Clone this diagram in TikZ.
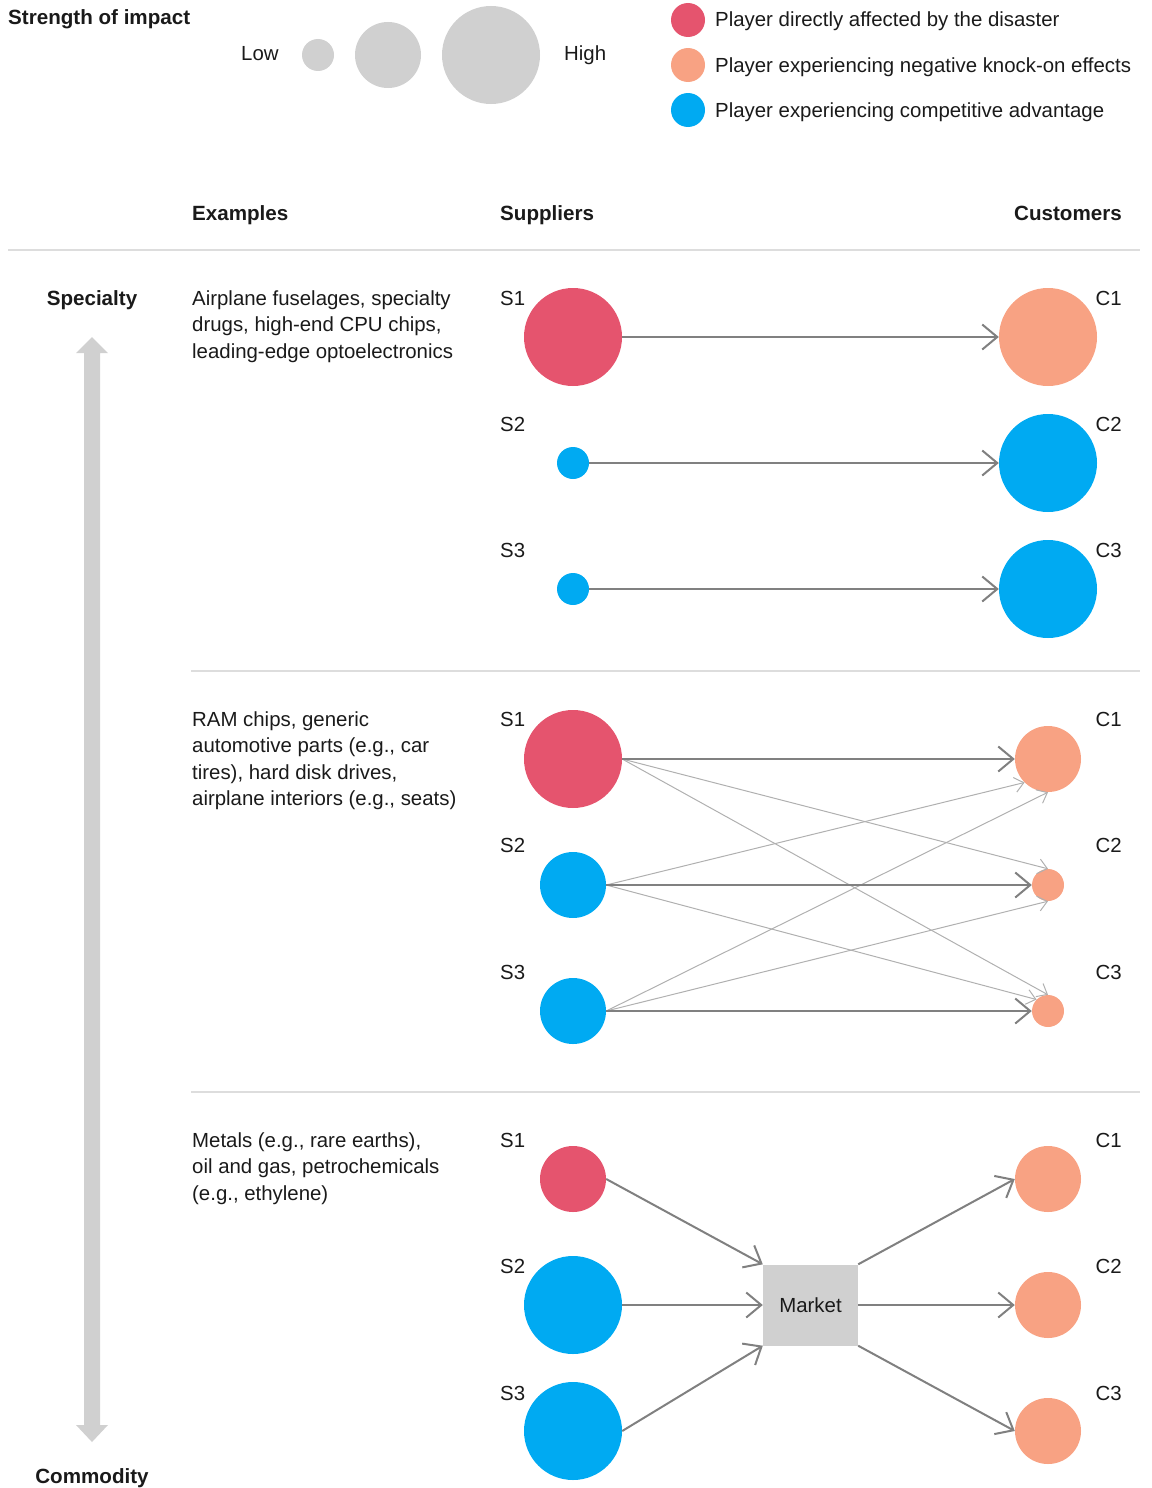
\documentclass[tikz,border=0pt]{standalone}
\usepackage{fontspec}
\setmainfont{Liberation Sans}
\usetikzlibrary{arrows.meta}
\definecolor{cred}{HTML}{E5546E}
\definecolor{csal}{HTML}{F8A283}
\definecolor{cblue}{HTML}{00AAF2}
\definecolor{cgray}{HTML}{D0D0D0}
\definecolor{ink}{HTML}{1A1A1A}
\definecolor{rule}{HTML}{DDDDDD}
\definecolor{darr}{HTML}{808080}
\definecolor{larr}{HTML}{B0B0B0}
\begin{document}
\begin{tikzpicture}[x=1pt,y=-1pt,
  t/.style={font=\fontsize{20.4}{26.4}\selectfont, text=ink, inner sep=0pt},
  bt/.style={font=\bfseries\fontsize{20.6}{26.4}\selectfont, text=ink, inner sep=0pt},
  dot/.style={circle, inner sep=0pt, draw=none},
  big/.style={dot, minimum size=98pt},
  mid/.style={dot, minimum size=66pt},
  sml/.style={dot, minimum size=32pt},
  main/.style={draw=darr, line width=2pt, -{Straight Barb[length=15pt,width=25pt]}},
  thin/.style={draw=larr, line width=1pt, -{Straight Barb[length=9pt,width=15pt]}},
  rl/.style={draw=rule, line width=1.5pt}
]
\useasboundingbox (0,0) rectangle (1151,1488);

% ---- legend: strength of impact
\node[bt, anchor=base west] (soi) at (8,25) {Strength of impact};
\node[t, anchor=base west] (low) at (241,61) {Low};
\node[sml, fill=cgray] (g1) at (318,55) {};
\node[mid, fill=cgray] (g2) at (388,55) {};
\node[big, fill=cgray] (g3) at (491,55) {};
\node[t, anchor=base west] (high) at (564,61) {High};

% ---- legend: colours
\node[dot, fill=cred, minimum size=34pt] (lc1) at (688,20) {};
\node[t, anchor=base west] (lt1) at (715,27) {Player directly affected by the disaster};
\node[dot, fill=csal, minimum size=34pt] (lc2) at (688,65) {};
\node[t, anchor=base west] (lt2) at (715,72) {Player experiencing negative knock-on effects};
\node[dot, fill=cblue, minimum size=34pt] (lc3) at (688,110) {};
\node[t, anchor=base west] (lt3) at (715,117) {Player experiencing competitive advantage};

% ---- headers
\node[bt, anchor=base west] (hex) at (192,220) {Examples};
\node[bt, anchor=base west] (hsu) at (500,220) {Suppliers};
\node[bt, anchor=base east] (hcu) at (1122,220) {Customers};
\coordinate (r0a) at (8,250);
\coordinate (r0b) at (1140,250);
\draw[rl] (r0a) -- (r0b);
\coordinate (r1a) at (191,671);
\coordinate (r1b) at (1140,671);
\draw[rl] (r1a) -- (r1b);
\coordinate (r2a) at (191,1092);
\coordinate (r2b) at (1140,1092);
\draw[rl] (r2a) -- (r2b);

% ---- left axis
\node[bt, anchor=base] (spec) at (92,305) {Specialty};
\node[bt, anchor=base] (comm) at (92,1483) {Commodity};
\fill[cgray] (84,353) -- (76,353) -- (92,337) -- (108,353) -- (100,353) -- (100,1425)
  -- (108,1425) -- (92,1442) -- (76,1425) -- (84,1425) -- cycle;

% ---- examples
\node[t, align=left, anchor=north west] (ex1) at (192,290.5)
  {Airplane fuselages, specialty\\drugs, high-end CPU chips,\\leading-edge optoelectronics};
\node[t, align=left, anchor=north west] (ex2) at (192,711.5)
  {RAM chips, generic\\automotive parts (e.g., car\\tires), hard disk drives,\\airplane interiors (e.g., seats)};
\node[t, align=left, anchor=north west] (ex3) at (192,1132.5)
  {Metals (e.g., rare earths),\\oil and gas, petrochemicals\\(e.g., ethylene)};

% ---- row labels
\foreach \y/\n in {305/1,431/2,557/3,726/1,852/2,979/3,1147/1,1273/2,1400/3}{
  \node[t, anchor=base west] (sl\y) at (500,\y) {S\n};
  \node[t, anchor=base east] (cl\y) at (1122,\y) {C\n};
}

% ---- section 1
\node[big, fill=cred]  (as1) at (573,337) {};
\node[sml, fill=cblue] (as2) at (573,463) {};
\node[sml, fill=cblue] (as3) at (573,589) {};
\node[big, fill=csal]  (ac1) at (1048,337) {};
\node[big, fill=cblue] (ac2) at (1048,463) {};
\node[big, fill=cblue] (ac3) at (1048,589) {};
\draw[main] (as1.east) -- (ac1.west);
\draw[main] (as2.east) -- (ac2.west);
\draw[main] (as3.east) -- (ac3.west);

% ---- section 2
\node[big, fill=cred]  (bs1) at (573,759) {};
\node[mid, fill=cblue] (bs2) at (573,885) {};
\node[mid, fill=cblue] (bs3) at (573,1011) {};
\node[mid, fill=csal]  (bc1) at (1048,759) {};
\node[sml, fill=csal]  (bc2) at (1048,885) {};
\node[sml, fill=csal]  (bc3) at (1048,1011) {};
\draw[thin] (bs1.east) -- (bc2.north);
\draw[thin] (bs1.east) -- (bc3.north);
\draw[thin] (bs2.east) -- (bc1.south west);
\draw[thin] (bs2.east) -- (bc3.135);
\draw[thin] (bs3.east) -- (bc1.south);
\draw[thin] (bs3.east) -- (bc2.south);
\draw[main] (bs1.east) -- (bc1.west);
\draw[main] (bs2.east) -- (bc2.west);
\draw[main] (bs3.east) -- (bc3.west);

% ---- section 3
\node[mid, fill=cred]  (cs1) at (573,1179) {};
\node[big, fill=cblue] (cs2) at (573,1305) {};
\node[big, fill=cblue] (cs3) at (573,1431) {};
\node[mid, fill=csal]  (cc1) at (1048,1179) {};
\node[mid, fill=csal]  (cc2) at (1048,1305) {};
\node[mid, fill=csal]  (cc3) at (1048,1431) {};
\node[t, rectangle, fill=cgray, minimum width=95pt, minimum height=81pt] (mk) at (810.5,1305) {Market};
\draw[main] (cs1.east) -- (mk.north west);
\draw[main] (cs2.east) -- (mk.west);
\draw[main] (cs3.east) -- (mk.south west);
\draw[main] (mk.north east) -- (cc1.west);
\draw[main] (mk.east) -- (cc2.west);
\draw[main] (mk.south east) -- (cc3.west);
\end{tikzpicture}
\end{document}
